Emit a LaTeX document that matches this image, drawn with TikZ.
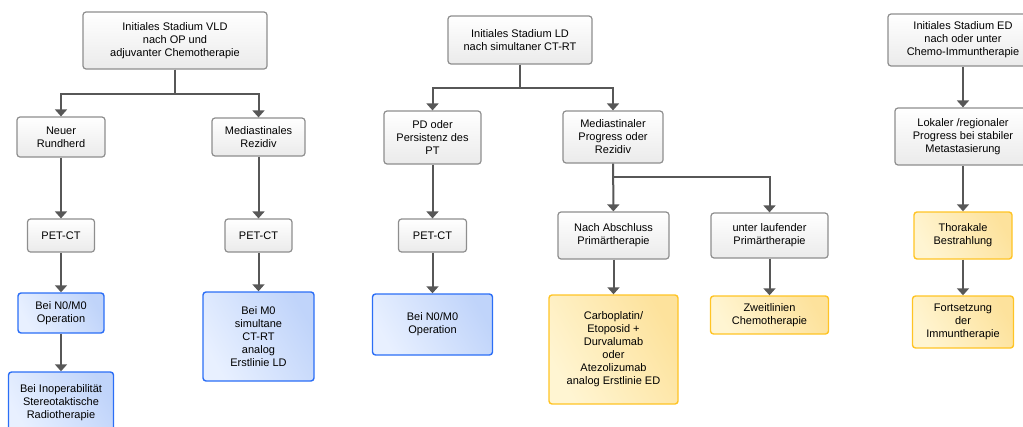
\documentclass[tikz,border=0pt]{standalone}
\usepackage{fontspec}
\setmainfont{Liberation Sans}
\usetikzlibrary{arrows.meta}

\definecolor{boxgrey}{HTML}{8E8E8E}
\definecolor{boxblue}{HTML}{2B6EF6}
\definecolor{boxyellow}{HTML}{FFC425}
\definecolor{bluelight}{HTML}{E8F0FF}
\definecolor{bluedark}{HTML}{C0D4FA}
\definecolor{yellowlight}{HTML}{FFF5D2}
\definecolor{yellowdark}{HTML}{FDE29C}
\definecolor{arrowgrey}{HTML}{575757}

\begin{document}
\begin{tikzpicture}[x=1pt, y=-1pt,
        every node/.style={font=\fontsize{11}{13}\selectfont, align=center, rounded corners=3pt, inner sep=2pt},
        grey/.style={draw=boxgrey, line width=1.2pt, top color=white, bottom color=black!8},
        blue/.style={draw=boxblue, line width=1.4pt, left color=bluelight, right color=bluedark, shading angle=120},
        yellow/.style={draw=boxyellow, line width=1.4pt, left color=yellowlight, right color=yellowdark, shading angle=120},
        arr/.style={draw=arrowgrey, line width=2pt, -{Triangle[width=12pt,length=7pt]}}]
    \useasboundingbox (0,0) rectangle (1023,426);

    % linke Spalte: VLD
    \node[grey,minimum width=184pt,minimum height=57pt] (vld) at (175,40.5) {Initiales Stadium VLD\\nach OP und\\adjuvanter Chemotherapie};
    \node[grey,minimum width=88pt,minimum height=40pt] (neu) at (61,137) {Neuer\\Rundherd};
    \node[grey,minimum width=93pt,minimum height=38pt] (medr) at (258.5,137) {Mediastinales\\Rezidiv};
    \node[grey,minimum width=67pt,minimum height=33pt] (pet1) [below of=neu, node distance=98.5pt] {PET-CT};
    \node[grey,minimum width=67pt,minimum height=33pt] (pet2) [below of=medr, node distance=98.5pt] {PET-CT};
    \node[blue,minimum width=86pt,minimum height=40pt] (opvld) [below of=pet1, node distance=77.5pt] {Bei N0/M0\\Operation};
    \node[blue,minimum width=105pt,minimum height=62pt] (inop) [below of=opvld, node distance=90pt] {Bei Inoperabilität\\Stereotaktische\\Radiotherapie};
    \node[blue,minimum width=111pt,minimum height=89pt] (ctrt) [below of=pet2, node distance=101pt] {Bei M0\\simultane\\CT-RT\\analog\\Erstlinie LD};

    % mittlere Spalte: LD
    \node[grey,minimum width=144pt,minimum height=48pt] (ld) at (520,40) {Initiales Stadium LD\\nach simultaner CT-RT};
    \node[grey,minimum width=97pt,minimum height=53pt] (pd) at (432.5,137.5) {PD oder\\Persistenz des\\PT};
    \node[grey,minimum width=100pt,minimum height=52pt] (mprog) at (613,137) {Mediastinaler\\Progress oder\\Rezidiv};
    \node[grey,minimum width=68pt,minimum height=33pt] (pet3) [below of=pd, node distance=98pt] {PET-CT};
    \node[blue,minimum width=120pt,minimum height=61pt] (opld) [below of=pet3, node distance=89pt] {Bei N0/M0\\Operation};
    \node[grey,minimum width=111pt,minimum height=47pt] (nach) at (613.5,235.5) {Nach Abschluss\\Primärtherapie};
    \node[grey,minimum width=117pt,minimum height=45pt] (unter) at (769.5,235.5) {unter laufender\\Primärtherapie};
    \node[yellow,minimum width=129pt,minimum height=109pt] (carbo) [below of=nach, node distance=114pt] {Carboplatin/\\Etoposid +\\Durvalumab\\oder\\Atezolizumab\\analog Erstlinie ED};
    \node[yellow,minimum width=118pt,minimum height=38pt] (zweit) [below of=unter, node distance=79.5pt] {Zweitlinien\\Chemotherapie};

    % rechte Spalte: ED
    \node[grey,minimum width=150pt,minimum height=52pt] (ed) at (963,40) {Initiales Stadium ED\\nach oder unter\\Chemo-Immuntherapie};
    \node[grey,minimum width=136pt,minimum height=57pt] (lok) [below of=ed, node distance=96.5pt] {Lokaler /regionaler\\Progress bei stabiler\\Metastasierung};
    \node[yellow,minimum width=98pt,minimum height=47pt] (thor) [below of=lok, node distance=99pt] {Thorakale\\Bestrahlung};
    \node[yellow,minimum width=101pt,minimum height=52pt] (fort) [below of=thor, node distance=86.5pt] {Fortsetzung\\der\\Immuntherapie};

    \draw[arr] (vld.south) -- ++(0,24) -| (neu.north);
    \draw[arr] (vld.south) -- ++(0,24) -| (medr.north);
    \draw[arr] (neu) -- (pet1);
    \draw[arr] (medr) -- (pet2);
    \draw[arr] (pet1) -- (opvld);
    \draw[arr] (opvld) -- (inop);
    \draw[arr] (pet2) -- (ctrt);

    \draw[arr] (ld.south) -- ++(0,23) -| (pd.north);
    \draw[arr] (ld.south) -- ++(0,23) -| (mprog.north);
    \draw[arr] (pd) -- (pet3);
    \draw[arr] (pet3) -- (opld);
    \draw[arr] (mprog) -- (nach);
    \draw[arr] (mprog.south) -- ++(0,13) -| (unter.north);
    \draw[arr] (nach) -- (carbo);
    \draw[arr] (unter) -- (zweit);

    \draw[arr] (ed) -- (lok);
    \draw[arr] (lok) -- (thor);
    \draw[arr] (thor) -- (fort);
\end{tikzpicture}
\end{document}
